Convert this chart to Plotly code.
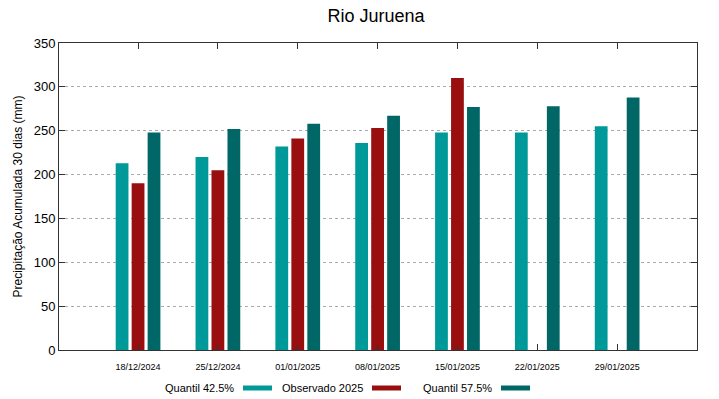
import plotly.graph_objects as go

categories = ["18/12/2024", "25/12/2024", "01/01/2025", "08/01/2025",
              "15/01/2025", "22/01/2025", "29/01/2025"]
q425 = [213, 220, 232, 236, 248, 248, 255]
obs2025 = [190, 205, 241, 253, 310, None, None]
q575 = [248, 252, 258, 267, 277, 278, 288]
series_names = ["Quantil 42.5%", "Observado 2025", "Quantil 57.5%"]
colors = ["#009999", "#990F0F", "#006666"]
y_ticks = [0, 50, 100, 150, 200, 250, 300, 350]

fig = go.Figure()
for name, vals, col in zip(series_names, [q425, obs2025, q575], colors):
    fig.add_trace(go.Bar(x=categories, y=vals, name=name, marker_color=col,
                         marker_line_width=0, showlegend=False))

font = "Liberation Sans, Arial, sans-serif"
fig.update_layout(
    width=719, height=399,
    margin=dict(l=59, r=22, t=43, b=49),
    paper_bgcolor="white", plot_bgcolor="white",
    barmode="group", bargap=0.4, bargroupgap=0.2,
    font=dict(family=font, color="black"),
    title=dict(text="Rio Juruena", x=0.523, xanchor="center", y=0.96, yanchor="middle",
               font=dict(size=18, family=font, color="black")),
    xaxis=dict(type="category", range=[-0.99, 7], showline=True, linecolor="#333333",
               linewidth=1, mirror="ticks", ticks="inside", ticklen=6, tickcolor="#333333",
               showgrid=False, tickfont=dict(size=9, family=font), ticklabelstandoff=8),
    yaxis=dict(range=[0, 350], tickvals=y_ticks, showline=True, linecolor="#333333",
               linewidth=1, mirror="ticks", ticks="inside", ticklen=6, tickcolor="#333333",
               showgrid=True, gridcolor="#aaaaaa", griddash="dot", gridwidth=1,
               zeroline=False, tickfont=dict(size=13, family=font),
               title=dict(text="Precipitação Acumulada 30 dias (mm)", standoff=8,
                          font=dict(size=12, family=font))),
)

# custom legend: text followed by colour sample (gnuplot style)
text_right = [236, 365, 494]
yy = (399 - 49 - 388) / 307
for name, col, xr in zip(series_names, colors, text_right):
    fig.add_annotation(xref="paper", yref="paper", x=(xr - 59) / 638, y=yy,
                       text=name, showarrow=False, xanchor="right", yanchor="middle",
                       font=dict(size=11, family=font, color="black"))
    x0 = (xr + 7 - 59) / 638
    x1 = (xr + 36 - 59) / 638
    fig.add_shape(type="line", xref="paper", yref="paper", x0=x0, x1=x1, y0=yy, y1=yy,
                  line=dict(color=col, width=5))

fig.write_html("out.html", config={"displayModeBar": False},
               post_script="document.body.style.margin='0px';document.body.style.overflow='hidden';")
